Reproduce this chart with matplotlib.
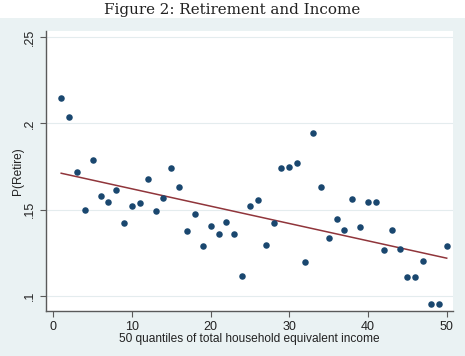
import numpy as np
import matplotlib
matplotlib.use("Agg")
import matplotlib.pyplot as plt
from matplotlib.patches import Rectangle

quantile = np.arange(1, 51)
p_retire = [0.2149, 0.2039, 0.1718, 0.1500, 0.1786, 0.1581, 0.1546, 0.1612, 0.1425, 0.1521,
            0.1541, 0.1678, 0.1494, 0.1566, 0.1741, 0.1631, 0.1378, 0.1475, 0.1292, 0.1406,
            0.1357, 0.1429, 0.1361, 0.1114, 0.1520, 0.1558, 0.1296, 0.1425, 0.1741, 0.1745,
            0.1769, 0.1197, 0.1942, 0.1631, 0.1338, 0.1448, 0.1382, 0.1562, 0.1402, 0.1543,
            0.1543, 0.1268, 0.1381, 0.1271, 0.1112, 0.1110, 0.1205, 0.0954, 0.0954, 0.1292]
fit_start, fit_end = 0.1711, 0.1219

xticks = [0, 10, 20, 30, 40, 50]
yticks = [0.10, 0.15, 0.20, 0.25]
ytick_labels = [".1", ".15", ".2", ".25"]

W, H = 465, 356
fig = plt.figure(figsize=(W / 100, H / 100), dpi=100)
fig.patch.set_facecolor("white")
fig.patches.append(Rectangle((0, 0), 1, 1 - 18 / H, transform=fig.transFigure,
                             facecolor="#eaf2f3", edgecolor="none", zorder=-10))
fig.text(0.5, 1 - 10 / H, "Figure 2: Retirement and Income", ha="center", va="center",
         family="DejaVu Serif", fontsize=10.9, color="#222222")

ax = fig.add_axes([45.7 / W, 1 - 311 / H, (453 - 45.7) / W, (311 - 31) / H])
ax.set_facecolor("white")
ax.set_xlim(-0.97, 50.8)
ax.set_ylim(0.0913, 0.2535)

for y in yticks:
    ax.axhline(y, color="#e4ecee", lw=0.8, zorder=0)

ax.scatter(quantile, p_retire, s=22, color="#1a476f", zorder=3, linewidths=0)
xf = np.array([quantile[0], quantile[-1]])
ax.plot(xf, [fit_start, fit_end], color="#90353b", lw=1.1, zorder=2)

for s in ["top", "right"]:
    ax.spines[s].set_visible(False)
for s in ["left", "bottom"]:
    ax.spines[s].set_color("#5a5a5a")
    ax.spines[s].set_linewidth(1.0)

ax.set_xticks(xticks)
ax.set_yticks(yticks)
ax.set_yticklabels(ytick_labels, rotation=90, va="center")
ax.tick_params(axis="both", direction="out", length=4, width=0.8, color="#5a5a5a",
               labelsize=9, labelcolor="#222222", pad=3)
for lbl in ax.get_xticklabels() + ax.get_yticklabels():
    lbl.set_family("Liberation Sans")

ax.set_xlabel("50 quantiles of total household equivalent income", family="Liberation Sans",
              fontsize=8.6, color="#222222", labelpad=0)
ax.set_ylabel("P(Retire)", family="Liberation Sans", fontsize=8.6, color="#222222", labelpad=0)

fig.savefig("out.png", dpi=100)
